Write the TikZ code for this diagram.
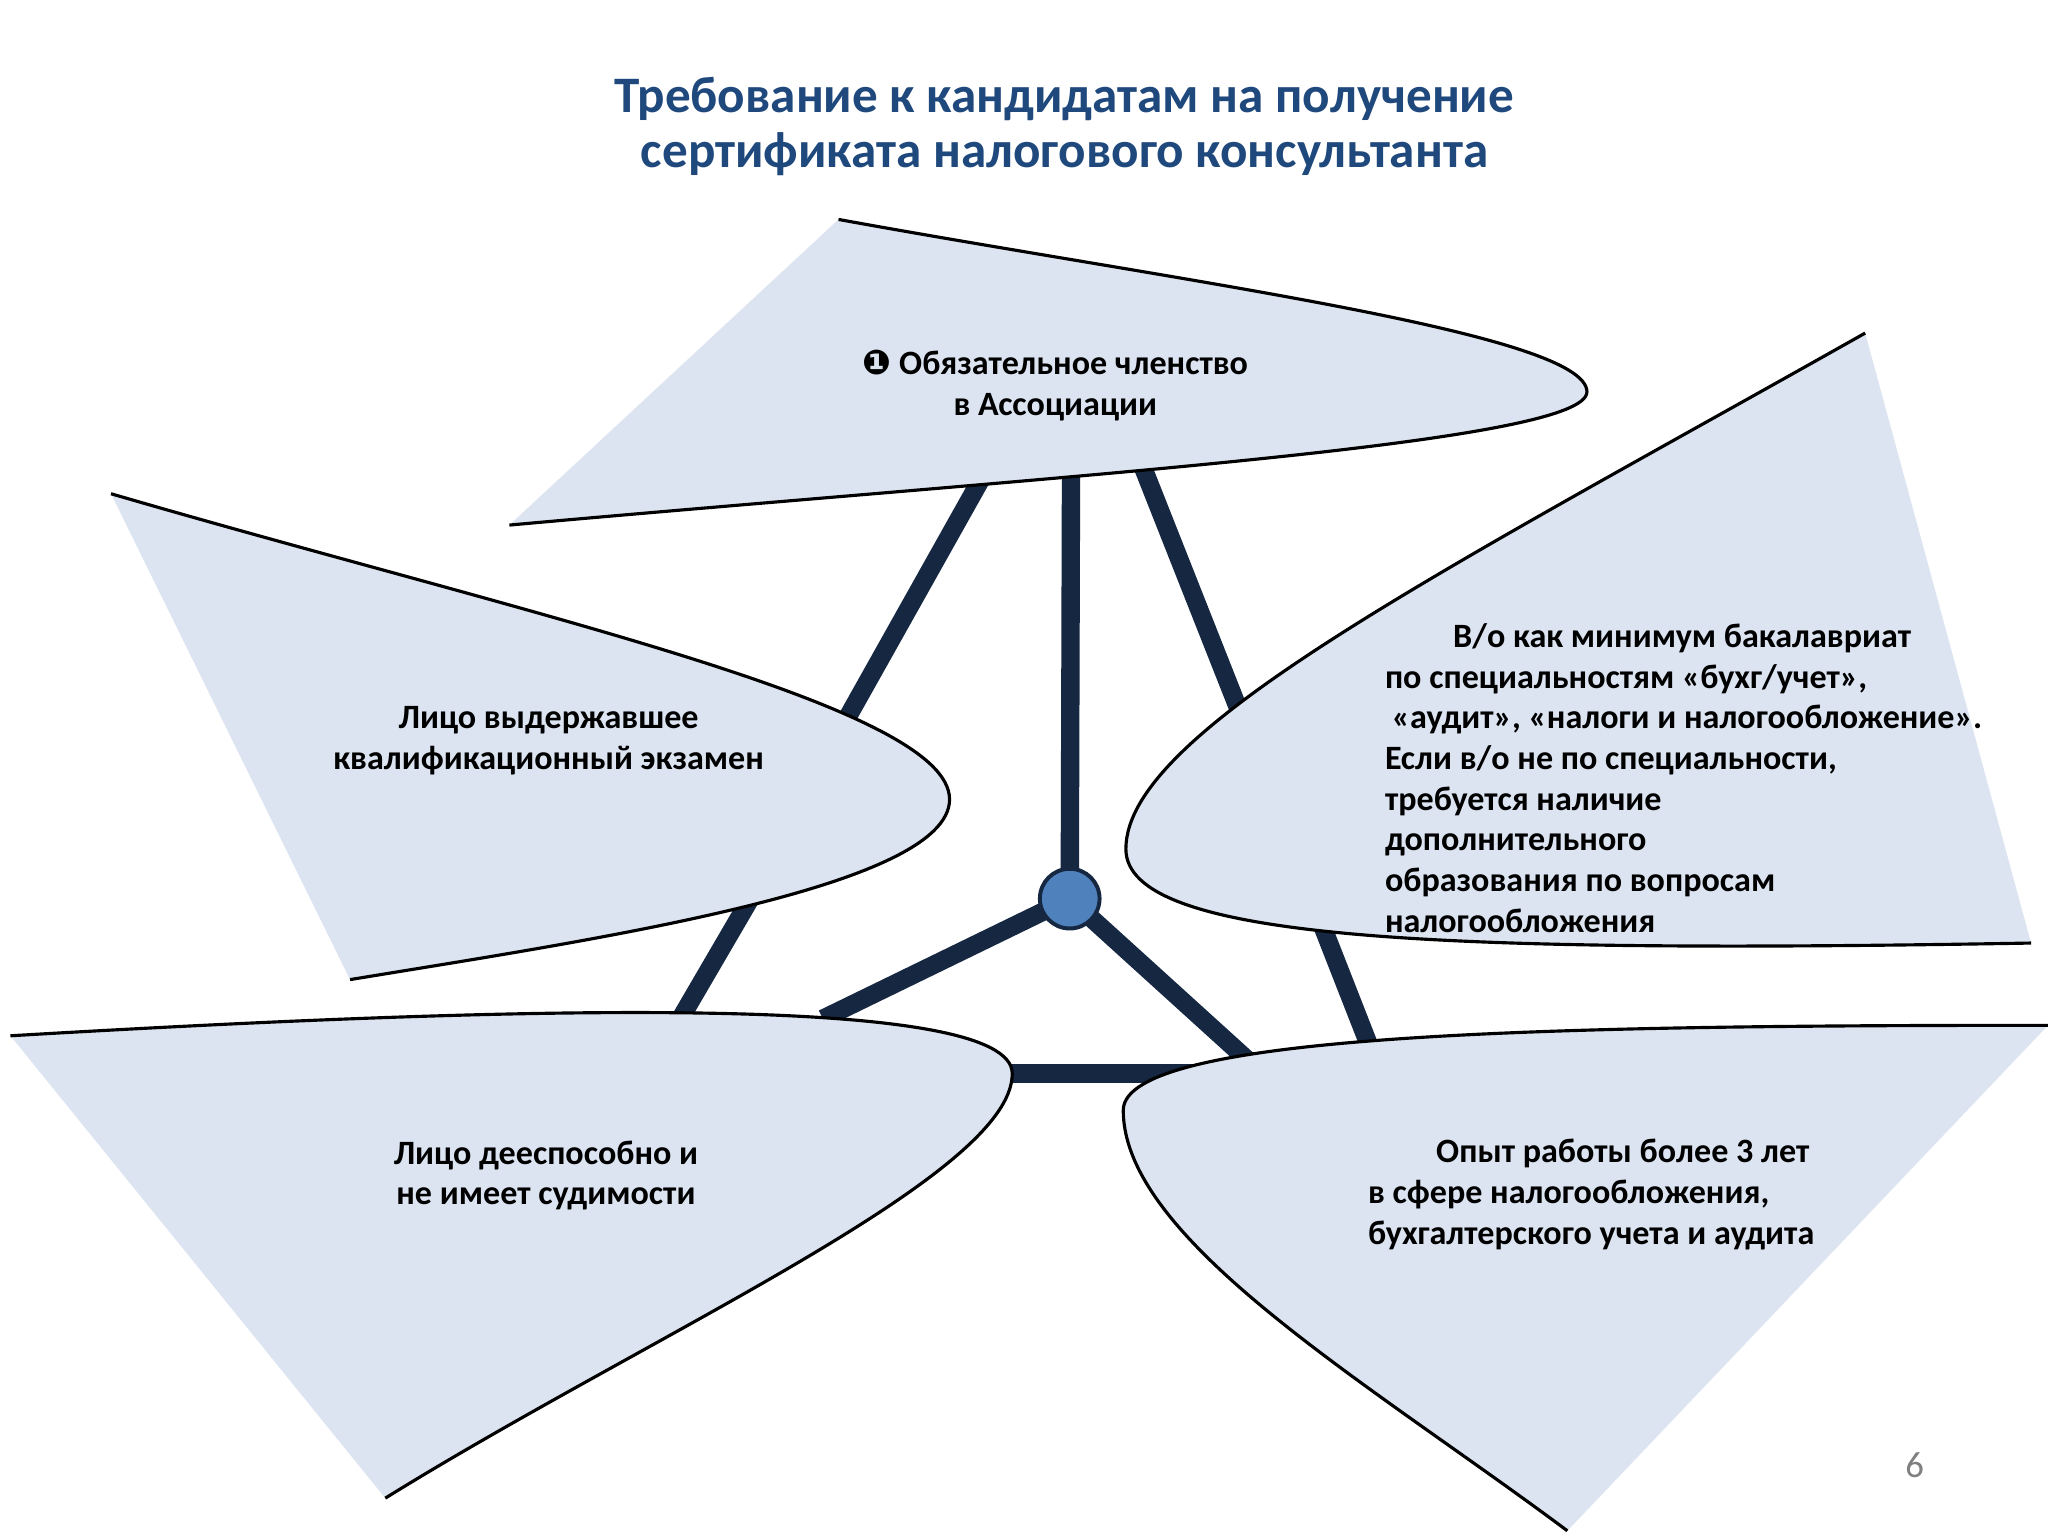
\documentclass[tikz,border=0pt]{standalone}
\usepackage{fontspec}
\setmainfont{Carlito}
\newfontfamily\dejavu{DejaVu Sans}
\definecolor{petal}{RGB}{220,228,241}
\definecolor{ttl}{RGB}{31,73,125}
\definecolor{spoke}{RGB}{22,39,66}
\definecolor{hub}{RGB}{79,129,189}
\begin{document}
\begin{tikzpicture}[x=0.0175cm,y=-0.0175cm,
  petalfill/.style={fill=petal},
  petaledge/.style={draw=black,line width=1.2pt},
  spokeline/.style={draw=spoke,line width=7pt},
  lbl/.style={font=\bfseries\fontsize{13}{15.5}\selectfont,text=black,inner sep=0pt}]
\useasboundingbox (0,0) rectangle (1568,1176);
\fill[white] (0,0) rectangle (1568,1176);
\node[font=\bfseries\fontsize{19.5}{21}\selectfont,text=ttl,align=center] (title) at (815,97) {Требование к кандидатам на получение\\ сертификата налогового консультанта};
% spoke coordinates
\coordinate (hubc) at (819,688);
\coordinate (t1) at (820,360); \coordinate (a1) at (755,360); \coordinate (a2) at (640,565);
\coordinate (b1) at (872,350); \coordinate (b2) at (955,560);
\coordinate (c1) at (585,670); \coordinate (c2) at (515,790);
\coordinate (d1) at (1005,690); \coordinate (d2) at (1052,810);
\coordinate (e1) at (630,780); \coordinate (f1) at (970,825);
\coordinate (g1) at (760,822); \coordinate (g2) at (960,822);
\draw[spokeline] (hubc) -- (t1);
\draw[spokeline] (a1) -- (a2);
\draw[spokeline] (b1) -- (b2);
\draw[spokeline] (c1) -- (c2);
\draw[spokeline] (d1) -- (d2);
\draw[spokeline] (hubc) -- (e1);
\draw[spokeline] (hubc) -- (f1);
\draw[spokeline] (g1) -- (g2);
% petals
\fill[petalfill] (642,168) .. controls (900,215) and (1215,255) .. (1215,300) .. controls (1215,340) and (800,365) .. (390,402) -- cycle;
\draw[petaledge] (642,168) .. controls (900,215) and (1215,255) .. (1215,300) .. controls (1215,340) and (800,365) .. (390,402);
\fill[petalfill] (85,378) .. controls (400,470) and (727,540) .. (727,612) .. controls (727,680) and (450,720) .. (268,750) -- cycle;
\draw[petaledge] (85,378) .. controls (400,470) and (727,540) .. (727,612) .. controls (727,680) and (450,720) .. (268,750);
\fill[petalfill] (1428,255) .. controls (1100,440) and (862,560) .. (862,650) .. controls (862,720) and (1100,730) .. (1555,722) -- cycle;
\draw[petaledge] (1428,255) .. controls (1100,440) and (862,560) .. (862,650) .. controls (862,720) and (1100,730) .. (1555,722);
\fill[petalfill] (8,793) .. controls (400,770) and (775,760) .. (775,822) .. controls (775,900) and (500,1020) .. (295,1147) -- cycle;
\draw[petaledge] (8,793) .. controls (400,770) and (775,760) .. (775,822) .. controls (775,900) and (500,1020) .. (295,1147);
\fill[petalfill] (1568,785) .. controls (1200,785) and (860,790) .. (860,850) .. controls (860,950) and (1050,1060) .. (1200,1172) -- cycle;
\draw[petaledge] (1568,785) .. controls (1200,785) and (860,790) .. (860,850) .. controls (860,950) and (1050,1060) .. (1200,1172);
\node[circle,fill=hub,draw=spoke,line width=1.5pt,minimum size=0.8cm,inner sep=0pt] (hub) at (hubc) {};
% labels
\node[lbl,align=center] (n1) at (808,295) {{\dejavu ❶} Обязательное членство\\в Ассоциации};
\node[lbl,align=center] (n2) at (420,567) {Лицо выдержавшее\\квалификационный экзамен};
\node[lbl,align=left,anchor=north west] (n3) at (1060,477) {\hspace*{2em}В/о как минимум бакалавриат\\по специальностям «бухг/учет»,\\ \hspace*{0.2em}«аудит», «налоги и налогообложение».\\Если в/о не по специальности,\\требуется наличие\\дополнительного\\образования по вопросам\\налогообложения};
\node[lbl,align=center] (n4) at (418,900) {Лицо дееспособно и\\не имеет судимости};
\node[lbl,align=left,anchor=north west] (n5) at (1047,872) {\hspace*{2em}Опыт работы более 3 лет\\в сфере налогообложения,\\бухгалтерского учета и аудита};
\node[font=\fontsize{14}{16}\selectfont,text=gray] (pg) at (1466,1122) {6};
\end{tikzpicture}
\end{document}
